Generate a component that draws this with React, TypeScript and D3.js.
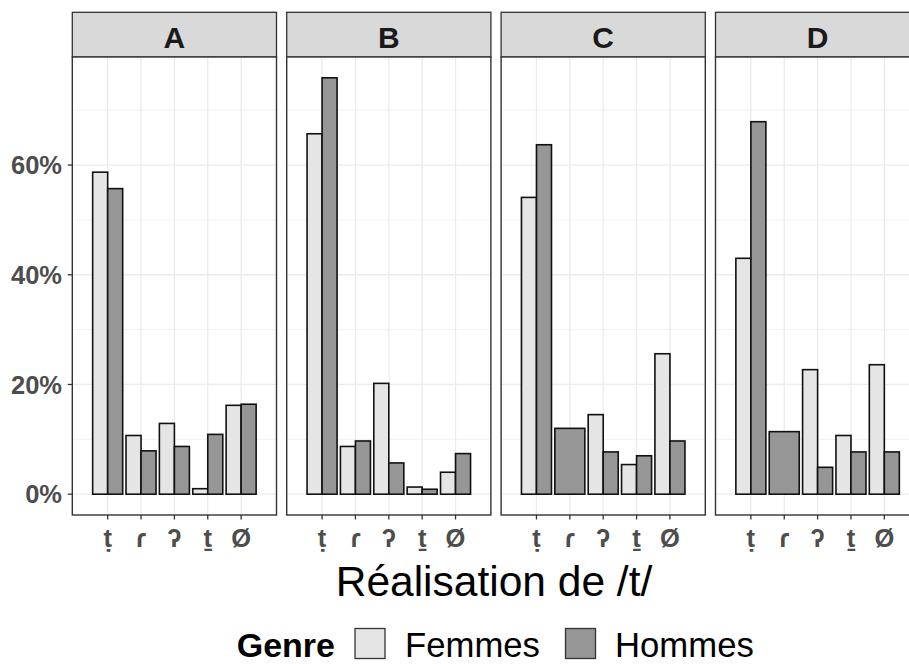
import React from "react";
import * as d3 from "d3";

const panels = ["A", "B", "C", "D"];
const categories = ["ṭ", "ɾ", "ʔ", "ṯ", "Ø"];
const genres = ["Femmes", "Hommes"];
const yTicks = [0, 20, 40, 60];
const yMinor = [10, 30, 50, 70];

// percentages per panel, per category (null = absent)
const femmesA = [58.7, 10.7, 12.9, 1.0, 16.2];
const hommesA = [55.7, 7.9, 8.7, 10.9, 16.4];
const femmesB = [65.7, 8.7, 20.2, 1.3, 4.0];
const hommesB = [75.9, 9.7, 5.7, 0.9, 7.4];
const femmesC = [54.1, null, 14.5, 5.4, 25.6];
const hommesC = [63.7, 12.0, 7.7, 7.0, 9.7];
const femmesD = [43.0, null, 22.7, 10.7, 23.6];
const hommesD = [67.9, 11.4, 4.9, 7.7, 7.7];

const seriesByPanel: Record<string, (number | null)[][]> = {
  A: [femmesA, hommesA],
  B: [femmesB, hommesB],
  C: [femmesC, hommesC],
  D: [femmesD, hommesD],
};

const fillColors = ["#E5E5E5", "#969696"];

const W = 909;
const H = 664;
const FONT = "'Liberation Sans', Arial, 'DejaVu Sans', sans-serif";

export default function App() {
  const panelLeft = 72.3;
  const panelRight = 919.7;
  const panelTop = 57;
  const panelBottom = 515;
  const stripTop = 12.3;

  const px = d3
    .scaleBand<string>()
    .domain(panels)
    .range([panelLeft, panelRight])
    .paddingInner(0.0476)
    .paddingOuter(0);
  const pw = px.bandwidth();

  const x = d3
    .scaleBand<string>()
    .domain(categories)
    .range([0, pw])
    .paddingInner(0)
    .paddingOuter(0.56);
  const step = x.step();

  const allVals = panels.flatMap((p) =>
    seriesByPanel[p].flat().filter((v) => v != null) as number[]
  );
  const maxV = d3.max(allVals) as number;
  const pad = maxV * 0.05;
  const y = d3
    .scaleLinear()
    .domain([-pad, maxV + pad])
    .range([panelBottom, panelTop]);

  const labelColor = "#4D4D4D";

  return (
    <svg
      width={W}
      height={H}
      style={{ position: "absolute", left: 0, top: 0, background: "#fff" }}
      fontFamily={FONT}
    >
      <rect x={0} y={0} width={W} height={H} fill="#fff" />
      {panels.map((p) => {
        const x0 = px(p) as number;
        const series = seriesByPanel[p];
        return (
          <g key={p}>
            {/* strip */}
            <rect
              x={x0}
              y={stripTop}
              width={pw}
              height={panelTop - stripTop}
              fill="#D9D9D9"
              stroke="#333"
              strokeWidth={1.3}
            />
            <text
              x={x0 + pw / 2}
              y={47.5}
              textAnchor="middle"
              fontSize={30}
              fontWeight="bold"
              fill="#1A1A1A"
            >
              {p}
            </text>
            {/* panel background & grid */}
            <rect x={x0} y={panelTop} width={pw} height={panelBottom - panelTop} fill="#fff" />
            {yMinor.map((t) => (
              <line
                key={"mi" + t}
                x1={x0}
                x2={x0 + pw}
                y1={y(t)}
                y2={y(t)}
                stroke="#F2F2F2"
                strokeWidth={1}
              />
            ))}
            {yTicks.map((t) => (
              <line
                key={"ma" + t}
                x1={x0}
                x2={x0 + pw}
                y1={y(t)}
                y2={y(t)}
                stroke="#EBEBEB"
                strokeWidth={1.3}
              />
            ))}
            {categories.map((c) => (
              <line
                key={"vg" + c}
                x1={x0 + (x(c) as number) + x.bandwidth() / 2}
                x2={x0 + (x(c) as number) + x.bandwidth() / 2}
                y1={panelTop}
                y2={panelBottom}
                stroke="#EBEBEB"
                strokeWidth={1.3}
              />
            ))}
            {/* bars */}
            {categories.map((c, ci) => {
              const present = genres
                .map((g, gi) => ({ g, gi, v: series[gi][ci] }))
                .filter((d) => d.v != null);
              const total = step * 0.9;
              const bw = total / present.length;
              const cx = x0 + (x(c) as number) + x.bandwidth() / 2;
              return present.map((d, k) => (
                <rect
                  key={c + d.g}
                  x={cx - total / 2 + k * bw}
                  y={y(d.v as number)}
                  width={bw}
                  height={y(0) - y(d.v as number)}
                  fill={fillColors[d.gi]}
                  stroke="#111"
                  strokeWidth={1.6}
                />
              ));
            })}
            {/* panel border */}
            <rect
              x={x0}
              y={panelTop}
              width={pw}
              height={panelBottom - panelTop}
              fill="none"
              stroke="#333"
              strokeWidth={1.4}
            />
            {/* x ticks + labels */}
            {categories.map((c) => {
              const cx = x0 + (x(c) as number) + x.bandwidth() / 2;
              return (
                <g key={"xt" + c}>
                  <line x1={cx} x2={cx} y1={panelBottom} y2={panelBottom + 4.5} stroke="#333" strokeWidth={1.3} />
                  <text
                    x={cx}
                    y={546.5}
                    textAnchor="middle"
                    fontSize={25.5}
                    fontWeight="bold"
                    fill={labelColor}
                  >
                    {c}
                  </text>
                </g>
              );
            })}
          </g>
        );
      })}
      {/* y axis ticks and labels */}
      {yTicks.map((t) => (
        <g key={"yt" + t}>
          <line x1={panelLeft - 4.5} x2={panelLeft} y1={y(t)} y2={y(t)} stroke="#333" strokeWidth={1.3} />
          <text
            x={62}
            y={y(t)}
            dy="0.36em"
            textAnchor="end"
            fontSize={25.5}
            fontWeight="bold"
            fill={labelColor}
          >
            {t + "%"}
          </text>
        </g>
      ))}
      {/* x axis title */}
      <text x={(panelLeft + panelRight) / 2 - 2} y={596} textAnchor="middle" fontSize={42.5} fill="#000">
        Réalisation de /t/
      </text>
      {/* legend */}
      <text x={236.7} y={657} fontSize={34} fontWeight="bold" fill="#000">
        Genre
      </text>
      <rect x={355} y={628.5} width={30} height={30} fill={fillColors[0]} stroke="#333" strokeWidth={1.3} />
      <text x={405} y={657} fontSize={34.7} fill="#000">
        {genres[0]}
      </text>
      <rect x={565.5} y={628.5} width={30} height={30} fill={fillColors[1]} stroke="#333" strokeWidth={1.3} />
      <text x={615} y={657} fontSize={34.7} fill="#000">
        {genres[1]}
      </text>
    </svg>
  );
}
